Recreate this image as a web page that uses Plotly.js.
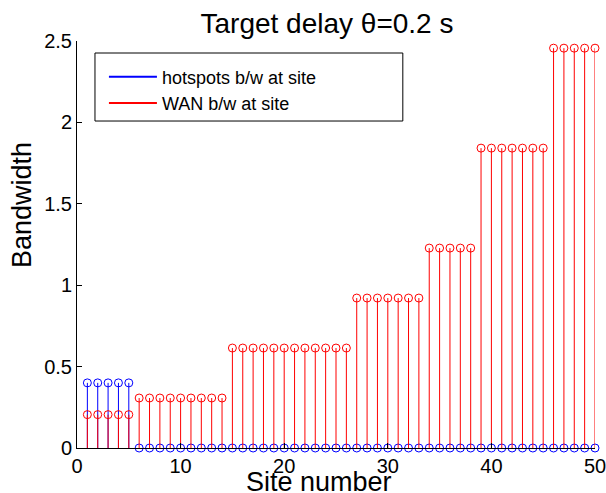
<!DOCTYPE html>
<html>
<head>
<meta charset="utf-8">
<script src="https://cdn.plot.ly/plotly-3.0.1.min.js"></script>
<style>
  html, body { margin: 0; padding: 0; background: #fff; }
  #chart { width: 606px; height: 493px; }
</style>
</head>
<body>
<div id="chart"></div>
<script>
// Site numbers along the x axis
const sites = [1,2,3,4,5,6,7,8,9,10,11,12,13,14,15,16,17,18,19,20,
               21,22,23,24,25,26,27,28,29,30,31,32,33,34,35,36,37,38,39,40,
               41,42,43,44,45,46,47,48,49,50];

// Hotspot bandwidth per site
const hotspotsBW = [0.40,0.40,0.40,0.40,0.40,
                    0,0,0,0,0,0,0,0,0,0,0,0,0,0,0,0,0,0,0,0,
                    0,0,0,0,0,0,0,0,0,0,0,0,0,0,0,0,0,0,0,0,
                    0,0,0,0,0];

// WAN bandwidth per site
const wanBW = [0.205,0.205,0.205,0.205,0.205,
               0.307,0.307,0.307,0.307,0.307,0.307,0.307,0.307,0.307,
               0.614,0.614,0.614,0.614,0.614,0.614,0.614,0.614,0.614,0.614,0.614,0.614,
               0.921,0.921,0.921,0.921,0.921,0.921,0.921,
               1.228,1.228,1.228,1.228,1.228,
               1.842,1.842,1.842,1.842,1.842,1.842,1.842,
               2.456,2.456,2.456,2.456,2.456];

const xTicks = [0, 10, 20, 30, 40, 50];
const yTicks = [0, 0.5, 1, 1.5, 2, 2.5];

const seriesNames = ['hotspots b/w at site', 'WAN b/w at site'];
const seriesColors = ['#0000ff', '#ff0000'];

// Build vertical stem segments from the baseline to each value
function stems(xs, ys) {
  const sx = [], sy = [];
  xs.forEach((x, i) => { sx.push(x, x, null); sy.push(0, ys[i], null); });
  return { x: sx, y: sy };
}

const FONT = 'Liberation Sans, Arial, Helvetica, sans-serif';
const traces = [];

[hotspotsBW, wanBW].forEach((vals, k) => {
  const s = stems(sites, vals);
  traces.push({
    x: s.x, y: s.y, mode: 'lines', type: 'scatter',
    line: { color: seriesColors[k], width: 1 },
    hoverinfo: 'skip', showlegend: false, cliponaxis: false
  });
  traces.push({
    x: sites, y: vals, mode: 'markers', type: 'scatter',
    marker: { symbol: 'circle-open', size: 8, color: seriesColors[k], line: { width: 1, color: seriesColors[k] } },
    showlegend: false, cliponaxis: false, name: seriesNames[k]
  });
});

// Legend keys
seriesNames.forEach((n, k) => {
  traces.push({
    x: [null], y: [null], mode: 'lines', type: 'scatter', name: n,
    line: { color: seriesColors[k], width: 2 }, showlegend: true
  });
});

const layout = {
  width: 606, height: 493,
  margin: { l: 77, r: 11, t: 41, b: 45, pad: 0 },
  paper_bgcolor: '#ffffff', plot_bgcolor: '#ffffff',
  font: { family: FONT, size: 20, color: '#000' },
  title: {
    text: 'Target delay θ=0.2 s',
    font: { family: FONT, size: 28, color: '#000' },
    xref: 'paper', x: 0.4826, xanchor: 'center',
    yref: 'container', y: 1 - 23 / 493, yanchor: 'middle'
  },
  xaxis: {
    range: [0, 50], tickvals: xTicks, ticks: 'inside', ticklen: 5,
    tickcolor: '#000', showline: true, linecolor: '#000', linewidth: 1,
    showgrid: false, zeroline: false, mirror: false, ticklabeloverflow: 'allow',
    tickfont: { family: FONT, size: 20, color: '#000' }, fixedrange: true
  },
  yaxis: {
    range: [0, 2.5], tickvals: yTicks, ticktext: yTicks.map(String), ticks: 'inside', ticklen: 5,
    tickcolor: '#000', showline: true, linecolor: '#000', linewidth: 1,
    showgrid: false, zeroline: false, mirror: false,
    tickfont: { family: FONT, size: 20, color: '#000' }, fixedrange: true
  },
  showlegend: true,
  legend: {
    x: 0.052, y: 0.957, xanchor: 'left', yanchor: 'top',
    bgcolor: 'rgba(0,0,0,0)', borderwidth: 0,
    font: { family: FONT, size: 18, color: '#000' },
    itemwidth: 48, tracegroupgap: 0
  },
  shapes: [{
    type: 'rect', xref: 'paper', yref: 'paper', layer: 'below',
    x0: 0.0347, x1: 0.629, y0: 0.8034, y1: 0.9705,
    line: { color: '#000', width: 1 }, fillcolor: '#ffffff'
  }],
  annotations: [
    { text: 'Site number', xref: 'paper', yref: 'paper', x: 0.467, y: -0.084,
      xanchor: 'center', yanchor: 'middle', showarrow: false,
      font: { family: FONT, size: 27, color: '#000' } },
    { text: 'Bandwidth', xref: 'paper', yref: 'paper', x: -0.1062, y: 0.597,
      xanchor: 'center', yanchor: 'middle', showarrow: false, textangle: -90,
      font: { family: FONT, size: 27, color: '#000' } }
  ]
};

Plotly.newPlot('chart', traces, layout, { staticPlot: true, displayModeBar: false });
</script>
</body>
</html>
